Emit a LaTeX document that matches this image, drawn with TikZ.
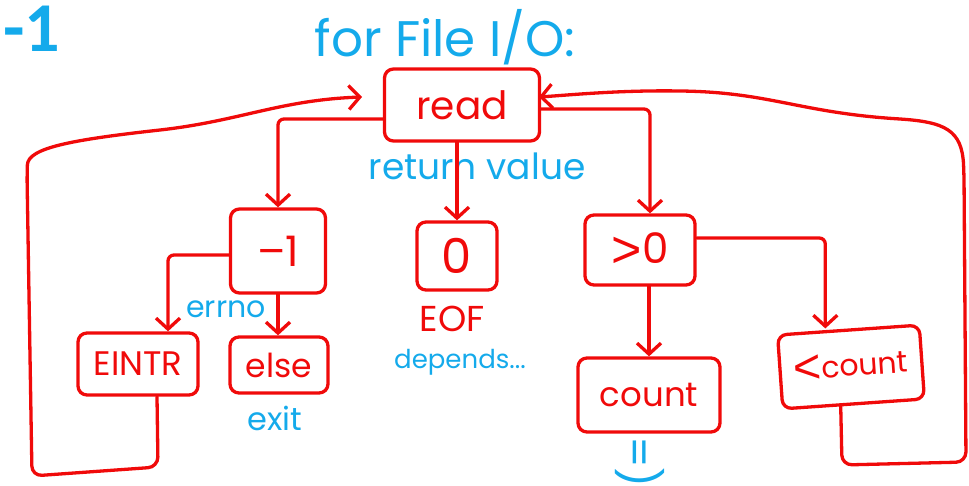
\documentclass[tikz,border=0pt]{standalone}
\usepackage{fontspec}
\setmainfont{Poppins}
\newfontfamily\headfont{Carlito}
\newfontfamily\signfont{Liberation Sans}
\usetikzlibrary{arrows.meta}
\definecolor{pen}{RGB}{240,10,10}
\definecolor{ink}{RGB}{20,170,235}
\newcommand{\fs}[1]{\fontsize{#1}{#1}\selectfont}
% comparison signs drawn a little larger than the body text
\newcommand{\lessmark}{\raisebox{-5pt}{\signfont\fs{48}<}}
\newcommand{\greatermark}{\raisebox{-4pt}{\signfont\fs{52}>}}
\begin{document}
\begin{tikzpicture}[x=1pt,y=-1pt,
  box/.style={draw=pen,line width=3.3pt,rounded corners=9pt,text=pen,inner sep=0pt,line join=round},
  flow/.style={draw=pen,line width=3.3pt,line cap=round,line join=round,rounded corners=6pt,
    -{Straight Barb[length=11pt,width=24pt]}},
  note/.style={text=ink,inner sep=0pt},
  redtext/.style={text=pen,inner sep=0pt}]
\useasboundingbox (0,0) rectangle (969,486);

% heading
\node[text=ink,inner sep=0pt,anchor=base west,font={\headfont\bfseries\fs{70}}] (num) at (3,52) {-1};
\node[note,anchor=base,font=\fs{50}] (title) at (445,57) {for File I/O:};

% boxes
\node[box,minimum width=155pt,minimum height=72pt,font=\fs{39}] (read) at (462,105) {read};
\node[box,minimum width=95pt,minimum height=84pt,font=\fs{42}] (neg1) at (278,251) {–1};
\node[box,minimum width=80pt,minimum height=68pt,font=\fs{48}] (zero) at (457,256) {0};
\node[box,minimum width=110pt,minimum height=70pt,font=\fs{42}] (gt0) at (640,250) {\greatermark0};
\node[box,minimum width=120pt,minimum height=62pt,font=\fs{34}] (eintr) at (138,364) {EINTR};
\node[box,minimum width=98pt,minimum height=56pt,font=\fs{33}] (else) at (279,365) {else};
\node[box,minimum width=142pt,minimum height=74pt,font=\fs{34}] (count) at (649,395) {count};
\node[box,minimum width=142pt,minimum height=74pt,font=\fs{30},rotate=4] (ltcount) at (851,367) {\lessmark count};

% labels
\node[note,anchor=base,font=\fs{36}] (retval) at (477,180) {return value};
\node[note,anchor=base,font=\fs{30}] (errno) at (226,318) {errno};
\node[note,anchor=base,font=\fs{32}] (exit) at (275,430) {exit};
\node[redtext,anchor=base,font=\fs{36}] (eof) at (452,331) {EOF};
\node[note,anchor=base,font=\fs{26}] (depends) at (460,368) {depends...};
\node[note,rotate=-90,font=\fs{44}] (smile) at (640,462) {=)};

% branches on the return value
\draw[flow] ([yshift=-14pt]read.west) -| (neg1.north);
\draw[flow] (zero.north |- read.south) -- (zero.north);
\draw[flow] ([yshift=-4pt]read.east) -| ([xshift=10pt]gt0.north);
\draw[flow] ([yshift=-4pt]neg1.west) -| ([xshift=30pt]eintr.north);
\draw[flow] (neg1.south) -- (neg1.south |- else.north);
\draw[flow] (count.north |- gt0.south) -- (count.north);
\draw[flow] ([yshift=12pt]gt0.east) -| ([xshift=-23pt]ltcount.north);

% retry loops back to read
\coordinate (readin) at (362,97);
\coordinate (readback) at (539,97);
\draw[flow,rounded corners=10pt] ([xshift=19pt]eintr.south) -- (158,467) -- (32,476) -- (27,175)
  [sharp corners] .. controls (28,148) and (70,140) .. (160,130)
  .. controls (240,121) and (280,100) .. (readin);
\draw[flow,rounded corners=10pt] ([xshift=-13pt]ltcount.south) -- (842,465) -- (966,462) -- (964,175)
  [sharp corners] .. controls (962,130) and (945,122) .. (900,119)
  .. controls (800,113) and (770,92) .. (680,91)
  .. controls (620,90) and (570,95) .. (readback);
\end{tikzpicture}
\end{document}
